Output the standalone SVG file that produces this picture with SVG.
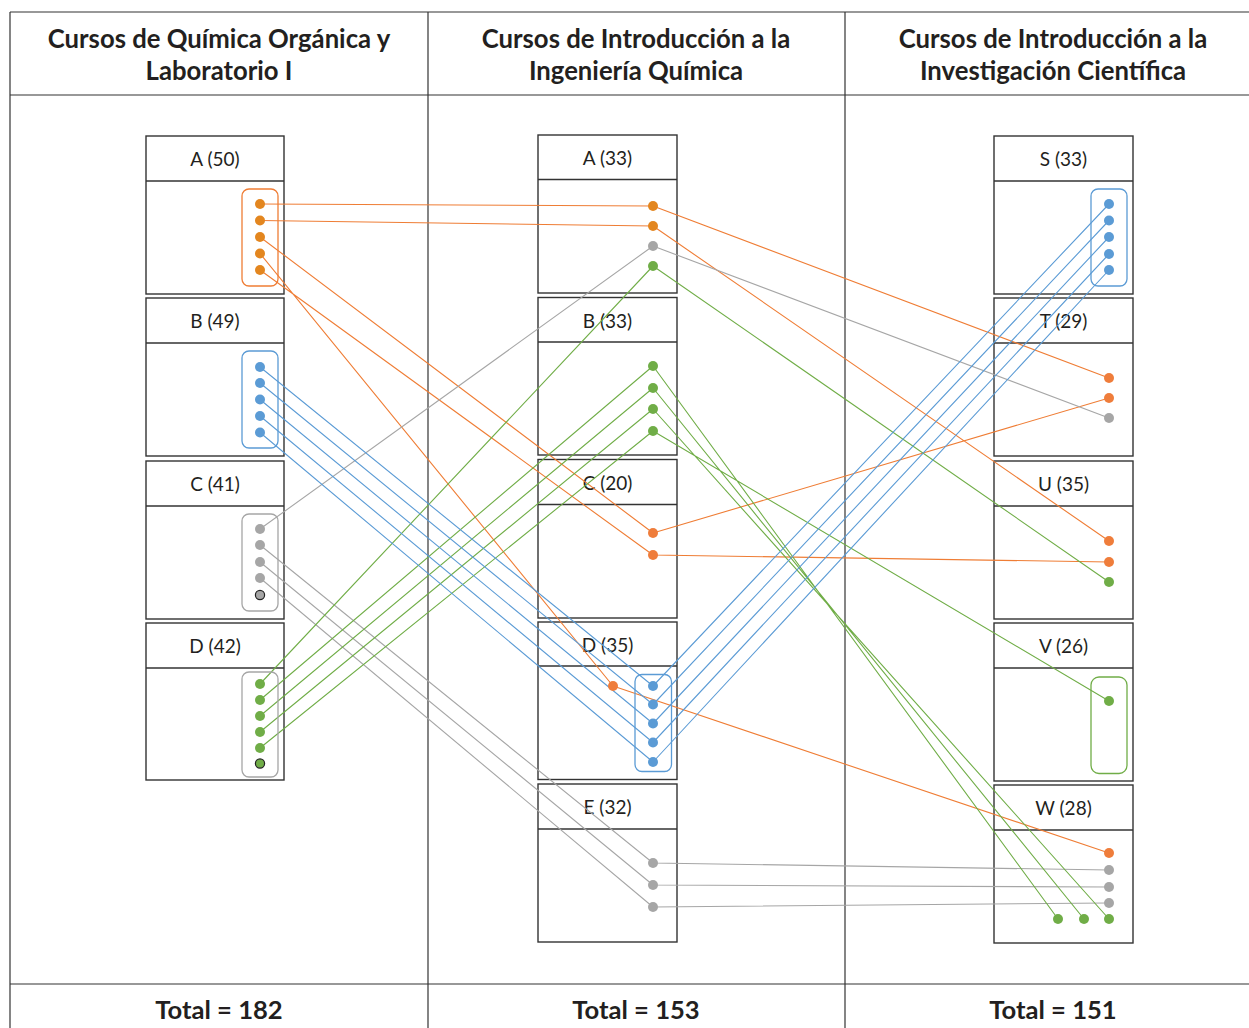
<svg xmlns="http://www.w3.org/2000/svg" width="1249" height="1028" viewBox="0 0 1249 1028">
<style>
.frame{stroke:#333;stroke-width:1.2;fill:none}
.box{fill:#fff;stroke:#333;stroke-width:1.4}
.sep{stroke:#333;stroke-width:1.6}
.hd{font-family:Lato,"Open Sans",sans-serif;font-weight:700;font-size:25.7px;fill:#231f20;text-anchor:middle}
.ft{font-family:Lato,"Open Sans",sans-serif;font-weight:700;font-size:25.6px;fill:#231f20;text-anchor:middle}
.lb{font-family:Lato,"Open Sans",sans-serif;font-size:19px;fill:#231f20;text-anchor:middle}
.o{stroke:#ef7d35;stroke-width:1.1;fill:none}
.g{stroke:#a6a6a6;stroke-width:1.1;fill:none}
.gr{stroke:#70ad47;stroke-width:1.1;fill:none}
.b{stroke:#5b9bd5;stroke-width:1.1;fill:none}
.do{fill:#ef7d3b}
.da{fill:#e3861f}
.dg{fill:#a6a6a6}
.dgr{fill:#70ad47}
.db{fill:#5b9bd5}
.out{stroke:#222;stroke-width:1.2}
.grp{fill:none;stroke-width:1.3}
</style>
<g id="table">
<line class="frame" x1="10" y1="12" x2="1249" y2="12"/>
<line class="frame" x1="10" y1="95" x2="1249" y2="95"/>
<line class="frame" x1="10" y1="984" x2="1249" y2="984"/>
<line class="frame" x1="10" y1="12" x2="10" y2="1028"/>
<line class="frame" x1="428" y1="12" x2="428" y2="1028"/>
<line class="frame" x1="845" y1="12" x2="845" y2="1028"/>
<text class="hd" x="219" y="48">Cursos de Química Orgánica y</text>
<text class="hd" x="219" y="80">Laboratorio I</text>
<text class="hd" x="636" y="48">Cursos de Introducción a la</text>
<text class="hd" x="636" y="80">Ingeniería Química</text>
<text class="hd" x="1053" y="48">Cursos de Introducción a la</text>
<text class="hd" x="1053" y="80">Investigación Científica</text>
<text class="ft" x="219" y="1019">Total = 182</text>
<text class="ft" x="636" y="1019">Total = 153</text>
<text class="ft" x="1053" y="1019">Total = 151</text>
</g>
<g id="node-L-A"><rect class="box" x="146" y="136" width="138" height="158"/><line class="sep" x1="146" y1="181" x2="284" y2="181"/><text class="lb" x="215" y="166">A (50)</text></g>
<g id="node-L-B"><rect class="box" x="146" y="298" width="138" height="158"/><line class="sep" x1="146" y1="343" x2="284" y2="343"/><text class="lb" x="215" y="328">B (49)</text></g>
<g id="node-L-C"><rect class="box" x="146" y="461" width="138" height="158"/><line class="sep" x1="146" y1="506" x2="284" y2="506"/><text class="lb" x="215" y="491">C (41)</text></g>
<g id="node-L-D"><rect class="box" x="146" y="623" width="138" height="157"/><line class="sep" x1="146" y1="668" x2="284" y2="668"/><text class="lb" x="215" y="653">D (42)</text></g>
<g id="node-M-A"><rect class="box" x="538" y="135" width="139" height="158"/><line class="sep" x1="538" y1="179.5" x2="677" y2="179.5"/><text class="lb" x="607.5" y="165">A (33)</text></g>
<g id="node-M-B"><rect class="box" x="538" y="297.5" width="139" height="157.5"/><line class="sep" x1="538" y1="342" x2="677" y2="342"/><text class="lb" x="607.5" y="327.5">B (33)</text></g>
<g id="node-M-C"><rect class="box" x="538" y="459.5" width="139" height="158.5"/><line class="sep" x1="538" y1="504.5" x2="677" y2="504.5"/><text class="lb" x="607.5" y="489.5">C (20)</text></g>
<g id="node-M-D"><rect class="box" x="538" y="622" width="139" height="157.5"/><line class="sep" x1="538" y1="666" x2="677" y2="666"/><text class="lb" x="607.5" y="652">D (35)</text></g>
<g id="node-M-E"><rect class="box" x="538" y="784" width="139" height="158"/><line class="sep" x1="538" y1="829" x2="677" y2="829"/><text class="lb" x="607.5" y="814">E (32)</text></g>
<g id="node-R-S"><rect class="box" x="994" y="136" width="139" height="158"/><line class="sep" x1="994" y1="181" x2="1133" y2="181"/><text class="lb" x="1063.5" y="166">S (33)</text></g>
<g id="node-R-T"><rect class="box" x="994" y="298" width="139" height="158"/><line class="sep" x1="994" y1="343" x2="1133" y2="343"/><text class="lb" x="1063.5" y="328">T (29)</text></g>
<g id="node-R-U"><rect class="box" x="994" y="461" width="139" height="158"/><line class="sep" x1="994" y1="506" x2="1133" y2="506"/><text class="lb" x="1063.5" y="491">U (35)</text></g>
<g id="node-R-V"><rect class="box" x="994" y="623" width="139" height="158"/><line class="sep" x1="994" y1="668" x2="1133" y2="668"/><text class="lb" x="1063.5" y="653">V (26)</text></g>
<g id="node-R-W"><rect class="box" x="994" y="785" width="139" height="158"/><line class="sep" x1="994" y1="830" x2="1133" y2="830"/><text class="lb" x="1063.5" y="815">W (28)</text></g>
<g id="connectors">
<path class="o" d="M260 204L653 206M260 220.5L653 226M260 237L653 533M260 253.5L613 686M260 270L653 555M653 206L1109 378M653 226L1109 541M653 533L1109 398M653 555L1109 562M613 686L1109 853"/>
<path class="g" d="M260 529L653 246M653 246L1109 418M260 545L653 863M260 562L653 885M260 578L653 907M653 863L1109 870M653 885L1109 887M653 907L1109 903"/>
<path class="gr" d="M260 684L653 266M260 700L653 366M260 716L653 388M260 732L653 409M260 748L653 431M653 266L1109 582M653 366L1058 919M653 388L1084 919M653 409L1109 919M653 431L1109 701"/>
<path class="b" d="M260 367L653 686M260 383L653 704.5M260 399.5L653 723.5M260 416L653 742.5M260 432.5L653 762M653 686L1109 204M653 704.5L1109 220.5M653 723.5L1109 237M653 742.5L1109 254M653 762L1109 270"/>
</g>
<g id="dots-L-A"><rect class="grp" x="242" y="189" width="36" height="97" rx="7" stroke="#ef7d35"/><g class="da"><circle cx="260" cy="204" r="5"/><circle cx="260" cy="220.5" r="5"/><circle cx="260" cy="237" r="5"/><circle cx="260" cy="253.5" r="5"/><circle cx="260" cy="270" r="5"/></g></g>
<g id="dots-L-B"><rect class="grp" x="242" y="351" width="36" height="97" rx="7" stroke="#5b9bd5"/><g class="db"><circle cx="260" cy="367" r="5"/><circle cx="260" cy="383" r="5"/><circle cx="260" cy="399.5" r="5"/><circle cx="260" cy="416" r="5"/><circle cx="260" cy="432.5" r="5"/></g></g>
<g id="dots-L-C"><rect class="grp" x="242" y="514" width="36" height="97" rx="7" stroke="#a6a6a6"/><g class="dg"><circle cx="260" cy="529" r="5"/><circle cx="260" cy="545" r="5"/><circle cx="260" cy="562" r="5"/><circle cx="260" cy="578" r="5"/><circle class="out" cx="260" cy="595" r="4.6"/></g></g>
<g id="dots-L-D"><rect class="grp" x="242" y="672" width="36" height="105" rx="7" stroke="#a6a6a6"/><g class="dgr"><circle cx="260" cy="684" r="5"/><circle cx="260" cy="700" r="5"/><circle cx="260" cy="716" r="5"/><circle cx="260" cy="732" r="5"/><circle cx="260" cy="748" r="5"/><circle class="out" cx="260" cy="763.5" r="4.6"/></g></g>
<g id="dots-M-A"><circle class="da" cx="653" cy="206" r="5"/><circle class="da" cx="653" cy="226" r="5"/><circle class="dg" cx="653" cy="246" r="5"/><circle class="dgr" cx="653" cy="266" r="5"/></g>
<g id="dots-M-B" class="dgr"><circle cx="653" cy="366" r="5"/><circle cx="653" cy="388" r="5"/><circle cx="653" cy="409" r="5"/><circle cx="653" cy="431" r="5"/></g>
<g id="dots-M-C" class="do"><circle cx="653" cy="533" r="5"/><circle cx="653" cy="555" r="5"/></g>
<g id="dots-M-D"><rect class="grp" x="635" y="674.5" width="36.5" height="97" rx="7" stroke="#5b9bd5"/><circle class="do" cx="613" cy="686" r="5"/><g class="db"><circle cx="653" cy="686" r="5"/><circle cx="653" cy="704.5" r="5"/><circle cx="653" cy="723.5" r="5"/><circle cx="653" cy="742.5" r="5"/><circle cx="653" cy="762" r="5"/></g></g>
<g id="dots-M-E" class="dg"><circle cx="653" cy="863" r="5"/><circle cx="653" cy="885" r="5"/><circle cx="653" cy="907" r="5"/></g>
<g id="dots-R-S"><rect class="grp" x="1091" y="189" width="36" height="97" rx="7" stroke="#5b9bd5"/><g class="db"><circle cx="1109" cy="204" r="5"/><circle cx="1109" cy="220.5" r="5"/><circle cx="1109" cy="237" r="5"/><circle cx="1109" cy="254" r="5"/><circle cx="1109" cy="270" r="5"/></g></g>
<g id="dots-R-T"><circle class="do" cx="1109" cy="378" r="5"/><circle class="do" cx="1109" cy="398" r="5"/><circle class="dg" cx="1109" cy="418" r="5"/></g>
<g id="dots-R-U"><circle class="do" cx="1109" cy="541" r="5"/><circle class="do" cx="1109" cy="562" r="5"/><circle class="dgr" cx="1109" cy="582" r="5"/></g>
<g id="dots-R-V"><rect class="grp" x="1091" y="677" width="36" height="96.5" rx="8" stroke="#70ad47"/><circle class="dgr" cx="1109" cy="701" r="5"/></g>
<g id="dots-R-W"><circle class="do" cx="1109" cy="853" r="5"/><circle class="dg" cx="1109" cy="870" r="5"/><circle class="dg" cx="1109" cy="887" r="5"/><circle class="dg" cx="1109" cy="903" r="5"/><circle class="dgr" cx="1058" cy="919" r="5"/><circle class="dgr" cx="1084" cy="919" r="5"/><circle class="dgr" cx="1109" cy="919" r="5"/></g>
</svg>
